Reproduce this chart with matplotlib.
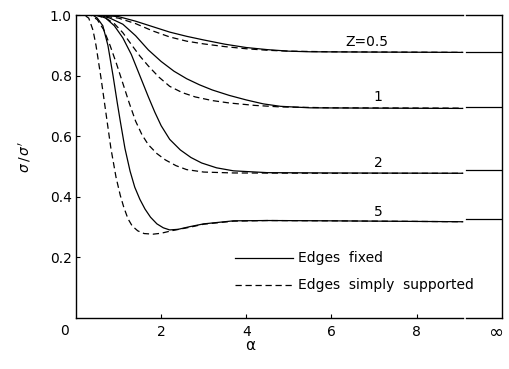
import matplotlib
matplotlib.use("Agg")
import matplotlib.pyplot as plt

# sigma/sigma' against alpha
# Z = 0.5
a_fix_05 = [0, 0.6, 1.0, 1.4, 1.8, 2.2, 2.6, 3.0, 3.5, 4.0, 4.5, 5.0, 5.5, 7.0, 9.08]
s_fix_05 = [1.0, 1.0, 0.995, 0.98, 0.962, 0.944, 0.93, 0.918, 0.904, 0.893, 0.886, 0.881, 0.879, 0.878, 0.877]
a_ss_05 = [0, 0.5, 1.0, 1.4, 1.8, 2.2, 2.6, 3.0, 3.5, 4.0, 4.5, 5.0, 6.0, 9.08]
s_ss_05 = [1.0, 1.0, 0.99, 0.972, 0.948, 0.928, 0.914, 0.905, 0.896, 0.889, 0.884, 0.881, 0.879, 0.877]

# Z = 1
a_fix_1 = [0, 0.55, 0.8, 1.1, 1.4, 1.7, 2.0, 2.3, 2.6, 2.9, 3.2, 3.6, 4.0, 4.4, 4.8, 5.5, 7.0, 9.08]
s_fix_1 = [1.0, 1.0, 0.99, 0.97, 0.932, 0.885, 0.847, 0.815, 0.79, 0.77, 0.753, 0.735, 0.72, 0.707, 0.699, 0.694, 0.693, 0.692]
a_ss_1 = [0, 0.45, 0.7, 0.9, 1.1, 1.3, 1.5, 1.7, 1.95, 2.2, 2.5, 2.8, 3.2, 3.6, 4.2, 4.8, 6.0, 9.08]
s_ss_1 = [1.0, 1.0, 0.99, 0.972, 0.942, 0.903, 0.865, 0.832, 0.795, 0.765, 0.744, 0.73, 0.718, 0.71, 0.702, 0.697, 0.694, 0.693]

# Z = 2
a_fix_2 = [0, 0.5, 0.7, 0.9, 1.1, 1.3, 1.5, 1.7, 1.85, 2.0, 2.2, 2.45, 2.7, 2.95, 3.3, 3.7, 4.5, 6.0, 9.08]
s_fix_2 = [1.0, 1.0, 0.99, 0.965, 0.925, 0.87, 0.8, 0.73, 0.68, 0.635, 0.59, 0.555, 0.53, 0.512, 0.496, 0.486, 0.48, 0.479, 0.478]
a_ss_2 = [0, 0.35, 0.5, 0.65, 0.8, 0.95, 1.1, 1.25, 1.4, 1.55, 1.7, 1.9, 2.1, 2.35, 2.6, 3.0, 3.7, 6.0, 9.08]
s_ss_2 = [1.0, 1.0, 0.985, 0.952, 0.9, 0.84, 0.775, 0.71, 0.65, 0.605, 0.572, 0.543, 0.522, 0.503, 0.49, 0.482, 0.479, 0.478, 0.478]

# Z = 5
a_fix_5 = [0, 0.4, 0.5, 0.63, 0.75, 0.87, 0.97, 1.04, 1.15, 1.27, 1.38, 1.5, 1.62, 1.75, 1.9, 2.05, 2.2, 2.4, 2.68, 3.0, 3.7, 4.5, 6.0, 9.08]
s_fix_5 = [1.0, 1.0, 0.99, 0.965, 0.9, 0.8, 0.71, 0.65, 0.56, 0.485, 0.432, 0.392, 0.36, 0.333, 0.311, 0.298, 0.291, 0.293, 0.302, 0.311, 0.321, 0.322, 0.321, 0.318]
a_ss_5 = [0, 0.2, 0.3, 0.4, 0.47, 0.59, 0.71, 0.82, 0.94, 1.04, 1.12, 1.22, 1.32, 1.45, 1.6, 1.81, 2.0, 2.27, 2.68, 3.0, 3.7, 4.5, 6.0, 9.08]
s_ss_5 = [1.0, 1.0, 0.99, 0.95, 0.9, 0.79, 0.67, 0.56, 0.465, 0.405, 0.367, 0.328, 0.304, 0.288, 0.279, 0.277, 0.28, 0.289, 0.3, 0.31, 0.32, 0.322, 0.321, 0.318]

# values at alpha = infinity (drawn past the break)
z_values = ["Z=0.5", "1", "2", "5"]
s_inf = [0.878, 0.697, 0.49, 0.327]
label_x = [6.83, 7.09, 7.09, 7.09]
label_y = [0.889, 0.705, 0.49, 0.328]

x_ticks = [2, 4, 6, 8]
y_ticks = [0.2, 0.4, 0.6, 0.8, 1.0]
brk_lo, brk_hi, x_end = 9.08, 9.15, 10.0

fig = plt.figure(figsize=(5.10, 3.69), dpi=100)
ax = fig.add_axes([0.149, 0.138, 0.835, 0.821])

lw = 0.9
dash = (0, (5, 3))
for a, s in [(a_fix_05, s_fix_05), (a_fix_1, s_fix_1), (a_fix_2, s_fix_2), (a_fix_5, s_fix_5)]:
    ax.plot(a, s, color="black", lw=lw)
for a, s in [(a_ss_05, s_ss_05), (a_ss_1, s_ss_1), (a_ss_2, s_ss_2), (a_ss_5, s_ss_5)]:
    ax.plot(a, s, color="black", lw=lw, linestyle=dash)

for v in s_inf:
    ax.plot([brk_hi, x_end], [v, v], color="black", lw=lw)

# top and bottom edges, broken before infinity
for yy in (0.0, 1.0):
    ax.plot([0, brk_lo], [yy, yy], color="black", lw=1.0, clip_on=False)
    ax.plot([brk_hi, x_end], [yy, yy], color="black", lw=1.0, clip_on=False)

for txt, xx, yy in zip(z_values, label_x, label_y):
    ax.text(xx, yy, txt, ha="center", va="bottom", fontsize=10)

# legend drawn by hand
ax.plot([3.74, 5.1], [0.198, 0.198], color="black", lw=lw)
ax.plot([3.74, 5.1], [0.109, 0.109], color="black", lw=lw, linestyle=dash)
ax.text(5.22, 0.198, "Edges  fixed", va="center", fontsize=10)
ax.text(5.22, 0.109, "Edges  simply  supported", va="center", fontsize=10)

ax.set_xlim(0, x_end)
ax.set_ylim(0, 1.0)
for side in ("top", "bottom"):
    ax.spines[side].set_visible(False)
ax.spines["left"].set_linewidth(1.0)
ax.spines["right"].set_linewidth(1.0)

ax.set_xticks(x_ticks)
ax.set_xticklabels([str(t) for t in x_ticks])
ax.set_yticks(y_ticks)
ax.set_yticklabels([f"{t:.1f}" for t in y_ticks])
ax.tick_params(direction="in", length=3, width=0.8, labelsize=10, pad=3)
ax.tick_params(axis="x", pad=5)

xt = ax.get_xaxis_transform()
ax.text(-0.26, -0.018, "0", transform=xt, ha="center", va="top", fontsize=10)
ax.text(9.84, -0.018, "\u221e", transform=xt, ha="center", va="top", fontsize=13)

ax.set_xlabel("\u03b1", fontsize=11)
ax.xaxis.set_label_coords(0.408, -0.065)
ax.set_ylabel(r"$\sigma\,/\,\sigma'$", fontsize=10)
ax.yaxis.set_label_coords(-0.1, 0.53)

fig.savefig("out.png", dpi=100)
